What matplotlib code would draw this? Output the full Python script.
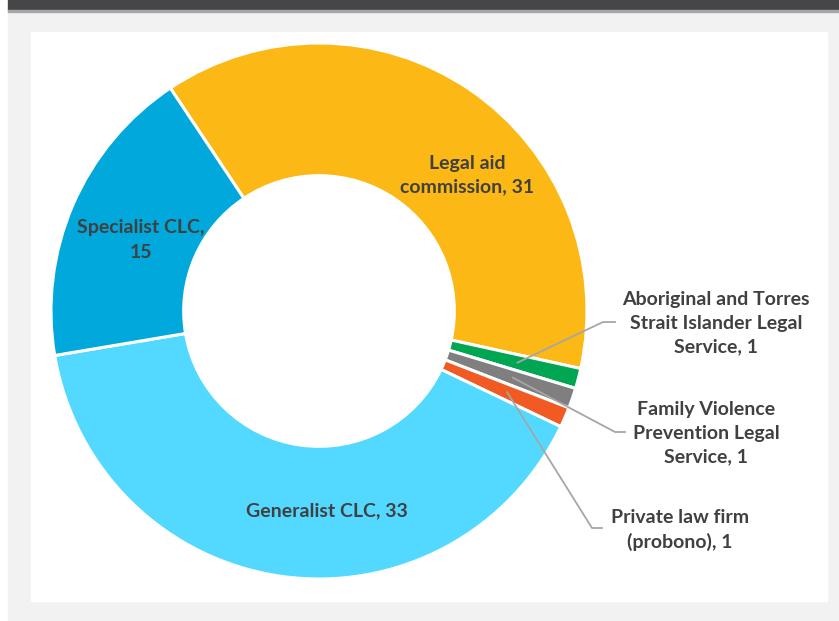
import numpy as np
import matplotlib.pyplot as plt
from matplotlib.patches import Rectangle

plt.rcParams['font.family'] = ['Lato', 'DejaVu Sans']

# services and counts, clockwise from the top-left edge
names = ['Legal aid\ncommission', 'Aboriginal and Torres\nStrait Islander Legal\nService',
         'Family Violence\nPrevention Legal\nService', 'Private law firm\n(probono)',
         'Generalist CLC', 'Specialist CLC,\n']
counts = [31, 1, 1, 1, 33, 15]
colors = ['#FCB814', '#00A651', '#7F7F7F', '#F15A22', '#53D9FF', '#00A8DB']

W, H = 839, 621
txt = '#404040'

fig = plt.figure(figsize=(W / 100, H / 100), dpi=100)
ax = fig.add_axes([0, 0, 1, 1])

# page frame
ax.add_patch(Rectangle((8, 0), W - 8, H - 10, color='#F2F2F2', zorder=0))
ax.add_patch(Rectangle((8, H - 10), W - 8, 10, color='#464648', zorder=0))
ax.add_patch(Rectangle((8, H - 11.5), W - 8, 1.5, color='#A6A6A6', zorder=0))
ax.add_patch(Rectangle((31, 20), 796, 569, color='white', zorder=0))

cx, cy, R = 319, 310, 268
wedges, _ = ax.pie(counts, colors=colors, startangle=123.7, counterclock=False,
                   center=(cx, cy), radius=R, frame=True,
                   wedgeprops=dict(width=R * 0.495, edgecolor='white', linewidth=2.2))
ax.set_xlim(0, W)
ax.set_ylim(0, H)
ax.set_aspect('equal')
ax.axis('off')

def label(i):
    if names[i].endswith('\n'):
        return f'{names[i]}{counts[i]}'
    return f'{names[i]}, {counts[i]}'

font = dict(fontsize=14, fontweight='bold', color=txt, linespacing=1.5)

# labels inside the ring
ax.text(467, H - 175, label(0), ha='center', va='center', **font)
ax.text(141, H - 240, label(5), ha='center', va='center', **font)
ax.text(327, H - 511, label(4), ha='center', va='center', **font)

# small slices with leader lines
outside = {1: ((716, H - 323), (615, H - 322), (603, H - 322)),
           2: ((706, H - 433), (625, H - 432), (615, H - 432)),
           3: ((680, H - 530), (602, H - 528), (592, H - 528))}
for i, (tpos, p_end, p_knee) in outside.items():
    w = wedges[i]
    mid = np.deg2rad((w.theta1 + w.theta2) / 2)
    r = R * 0.765
    x0, y0 = cx + r * np.cos(mid), cy + r * np.sin(mid)
    ax.plot([x0, p_knee[0], p_end[0]], [y0, p_knee[1], p_end[1]],
            color='#A6A6A6', lw=1.3, zorder=5)
    ax.text(tpos[0], tpos[1], label(i), ha='center', va='center', **font)

fig.savefig('out.png', dpi=100)
